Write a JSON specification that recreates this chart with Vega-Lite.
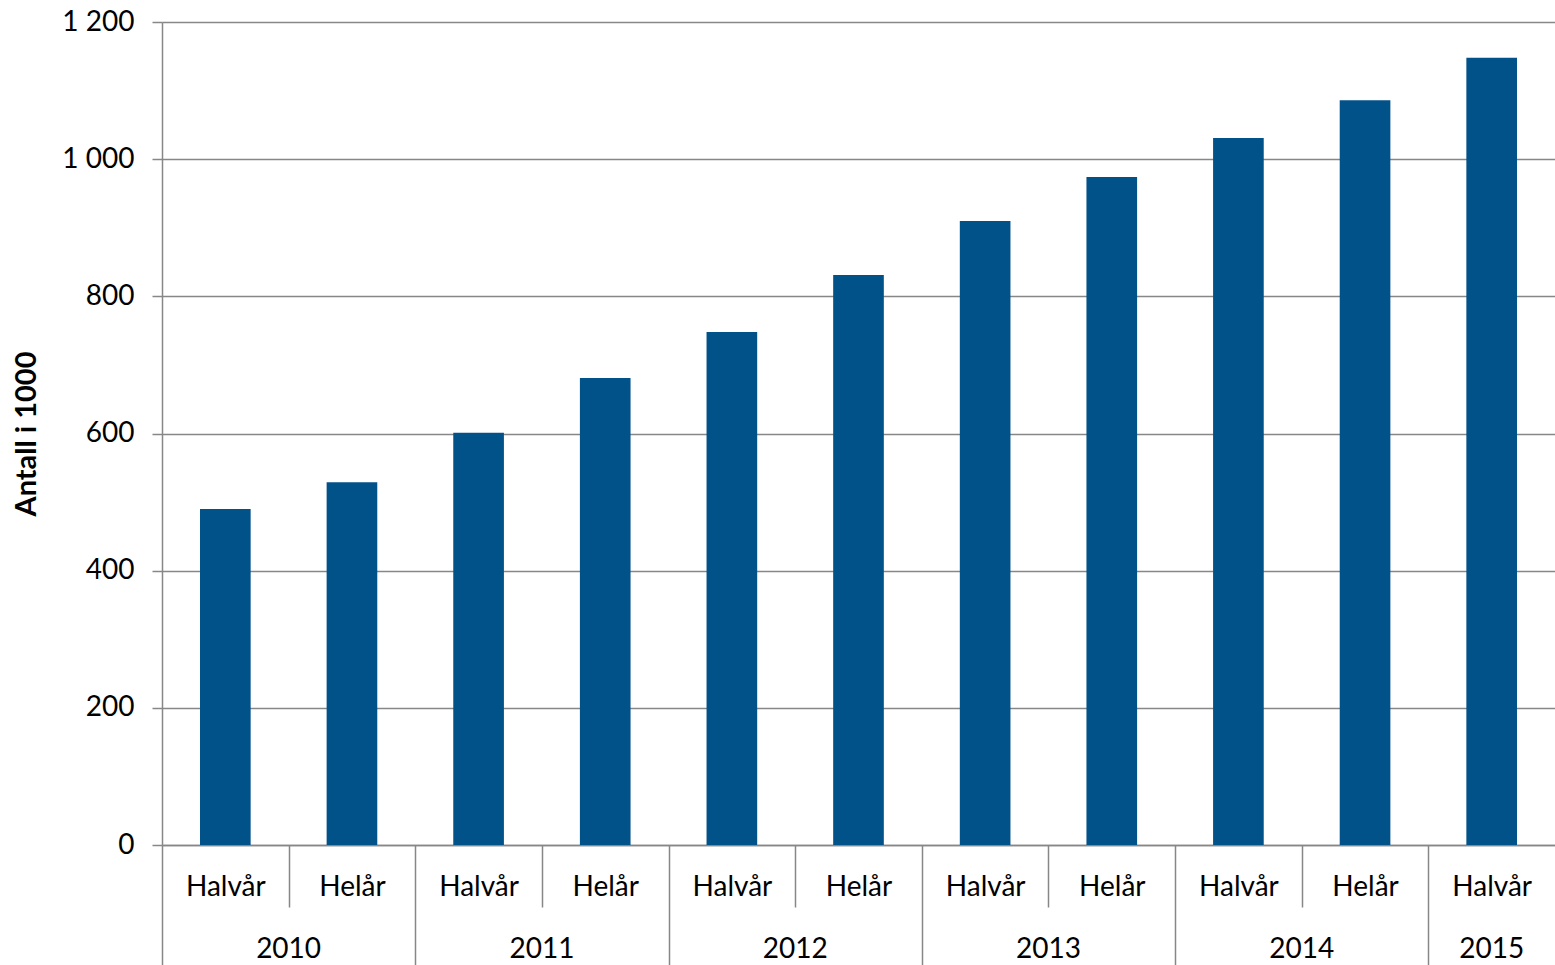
{
  "$schema": "https://vega.github.io/schema/vega-lite/v6.json",
  "width": 1393,
  "height": 823,
  "autosize": "none",
  "padding": {"left": 162, "top": 22, "right": 0, "bottom": 120},
  "background": "white",
  "config": {
    "font": "Lato",
    "view": {"stroke": null},
    "axis": {"labelColor": "#000000", "titleColor": "#000000", "labelFont": "Lato", "titleFont": "Lato"}
  },
  "data": {
    "values": [
      {"year": "2010", "period": "Halvår", "key": "2010 Halvår", "value": 490},
      {"year": "2010", "period": "Helår", "key": "2010 Helår", "value": 529},
      {"year": "2011", "period": "Halvår", "key": "2011 Halvår", "value": 601},
      {"year": "2011", "period": "Helår", "key": "2011 Helår", "value": 681},
      {"year": "2012", "period": "Halvår", "key": "2012 Halvår", "value": 748},
      {"year": "2012", "period": "Helår", "key": "2012 Helår", "value": 831},
      {"year": "2013", "period": "Halvår", "key": "2013 Halvår", "value": 910},
      {"year": "2013", "period": "Helår", "key": "2013 Helår", "value": 974},
      {"year": "2014", "period": "Halvår", "key": "2014 Halvår", "value": 1031},
      {"year": "2014", "period": "Helår", "key": "2014 Helår", "value": 1086},
      {"year": "2015", "period": "Halvår", "key": "2015 Halvår", "value": 1148}
    ]
  },
  "layer": [
    {
      "mark": {"type": "bar", "width": {"band": 0.4}, "color": "#02528A"},
      "encoding": {
        "x": {
          "field": "key", "type": "nominal", "sort": null,
          "scale": {"paddingInner": 0, "paddingOuter": 0},
          "axis": {
            "orient": "bottom",
            "title": null,
            "labelAngle": 0,
            "labelExpr": "split(datum.label, ' ')[1]",
            "labelFontSize": 28,
            "labelBaseline": "top",
            "labelPadding": {"condition": [
              {"test": "datum.value === '2015 Halvår'", "value": 28},
              {"test": "isString(datum.value) && indexof(datum.value, 'Halvår') >= 0", "value": -34}
            ], "value": -92},
            "domain": true,
            "domainColor": "#878787",
            "domainWidth": 1.5,
            "tickBand": "extent",
            "tickColor": "#878787",
            "tickWidth": 1.5,
            "tickSize": {"condition": [
              {"test": "datum.value === '2015 Halvår'", "value": 0},
              {"test": "isString(datum.value) && indexof(datum.value, 'Halvår') >= 0", "value": 62}
            ], "value": 120},
            "grid": false
          }
        },
        "y": {
          "field": "value", "type": "quantitative",
          "scale": {"domain": [0, 1200], "nice": false},
          "axis": {
            "values": [0, 200, 400, 600, 800, 1000, 1200],
            "labelExpr": "replace(format(datum.value, ','), ',', ' ')",
            "labelFontSize": 28,
            "labelPadding": 18,
            "tickSize": 10,
            "tickColor": "#878787",
            "tickWidth": 1.5,
            "domainColor": "#878787",
            "domainWidth": 1.5,
            "grid": true,
            "gridColor": "#878787",
            "gridWidth": 1.5,
            "title": "Antall i 1000",
            "titleFontSize": 29,
            "titleFontWeight": "bold",
            "titlePadding": 20
          }
        }
      }
    },
    {
      "mark": {"type": "bar", "width": {"band": 0.4}, "opacity": 0},
      "encoding": {
        "x": {
          "field": "key", "type": "nominal", "sort": null,
          "axis": {
            "orient": "bottom",
            "offset": 62,
            "title": null,
            "labelAngle": 0,
            "values": ["2010 Halvår", "2011 Halvår", "2012 Halvår", "2013 Halvår", "2014 Halvår", "2015 Halvår"],
            "labelExpr": "split(datum.label, ' ')[0]",
            "labelFontSize": 28,
            "labelPadding": 28,
            "labelBaseline": "top",
            "labelOffset": {"condition": {"test": "datum.value === '2015 Halvår'", "value": 0}, "value": 63.3},
            "ticks": false,
            "domain": false,
            "grid": false
          }
        },
        "y": {"field": "value", "type": "quantitative"}
      }
    }
  ],
  "resolve": {"axis": {"x": "independent"}}
}
